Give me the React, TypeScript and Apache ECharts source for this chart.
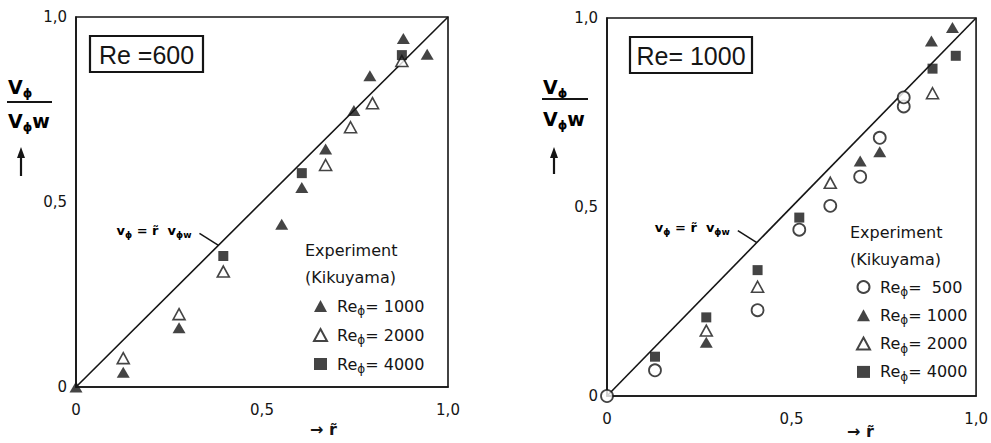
import React, { useEffect, useRef } from "react";
import * as echarts from "echarts";

// Axis ticks and their printed labels (decimal comma)
const axisTicks = [0, 0.5, 1];
const tickLabels = ["0", "0,5", "1,0"];

// Reference line v_phi = r~ v_phi_w
const diagonal = [
  [0, 0],
  [1, 1],
];

// Re = 600, measurements by Kikuyama  [r~, v_phi / v_phi_w]
const re600Rephi1000 = [
  [0, 0],
  [0.127, 0.04],
  [0.277, 0.16],
  [0.553, 0.44],
  [0.607, 0.539],
  [0.671, 0.643],
  [0.747, 0.747],
  [0.79, 0.841],
  [0.88, 0.942],
  [0.944, 0.899],
];
const re600Rephi2000 = [
  [0.127, 0.078],
  [0.277, 0.197],
  [0.396, 0.312],
  [0.671, 0.6],
  [0.738, 0.702],
  [0.797, 0.767],
  [0.876, 0.881],
];
const re600Rephi4000 = [
  [0.396, 0.354],
  [0.607, 0.578],
  [0.876, 0.897],
];

// Re = 1000, measurements by Kikuyama
const re1000Rephi500 = [
  [0, 0],
  [0.13, 0.068],
  [0.408, 0.227],
  [0.521, 0.44],
  [0.605, 0.503],
  [0.686, 0.58],
  [0.739, 0.683],
  [0.804, 0.766],
  [0.804, 0.79],
];
const re1000Rephi1000 = [
  [0.269, 0.142],
  [0.686, 0.622],
  [0.739, 0.646],
  [0.879, 0.939],
  [0.936, 0.975],
];
const re1000Rephi2000 = [
  [0.269, 0.173],
  [0.408, 0.289],
  [0.605, 0.564],
  [0.882, 0.801],
];
const re1000Rephi4000 = [
  [0.13, 0.104],
  [0.269, 0.208],
  [0.408, 0.333],
  [0.521, 0.472],
  [0.882, 0.866],
  [0.945, 0.9],
];

const panelTitles = ["Re =600", "Re= 1000"];
const legendHeading = ["Experiment", "(Kikuyama)"];
const seriesNames = { r500: "Re500", r1000: "Re1000", r2000: "Re2000", r4000: "Re4000" };
const legendValues: Record<string, string> = {
  Re500: "  500",
  Re1000: " 1000",
  Re2000: " 2000",
  Re4000: " 4000",
};

const INK = "#151515";
const FONT = "DejaVu Sans";

const filledTriangle = {
  symbol: "triangle",
  symbolSize: [13, 11],
  itemStyle: { color: INK },
};
const openTriangle = {
  symbol: "triangle",
  symbolSize: [12, 11],
  itemStyle: { color: "#fff", borderColor: INK, borderWidth: 1.6 },
};
const filledSquare = {
  symbol: "rect",
  symbolSize: 10,
  itemStyle: { color: INK },
};
const openCircle = {
  symbol: "circle",
  symbolSize: 12,
  itemStyle: { color: "#fff", borderColor: INK, borderWidth: 1.8 },
};

const legendRich = {
  txt: { fontSize: 16, lineHeight: 22, fontFamily: FONT, color: INK },
  sub: { fontSize: 12, lineHeight: 12, fontFamily: FONT, color: INK, verticalAlign: "bottom" as const },
};

function axisPair(gridIndex: number) {
  const label = {
    fontFamily: FONT,
    fontSize: 15,
    color: INK,
    formatter: (v: number) => {
      const i = axisTicks.findIndex((t) => Math.abs(t - v) < 1e-9);
      return i >= 0 ? tickLabels[i] : "";
    },
  };
  const common = {
    gridIndex,
    type: "value" as const,
    min: axisTicks[0],
    max: axisTicks[axisTicks.length - 1],
    interval: 0.5,
    axisLine: { show: true, lineStyle: { color: INK, width: 1.6 } },
    axisTick: { show: false },
    splitLine: { show: false },
  };
  return {
    x: { ...common, axisLabel: { ...label, margin: 15 } },
    y: { ...common, axisLabel: { ...label, margin: 9 } },
  };
}

function scatter(name: string, data: number[][], gridIndex: number, style: object) {
  return {
    type: "scatter",
    name,
    data,
    xAxisIndex: gridIndex,
    yAxisIndex: gridIndex,
    z: 3,
    ...style,
  };
}

function fraction(left: number, lineRight: number, topY: number, lineY: number, botY: number, arrowX: number, arrowTop: number, arrowBottom: number) {
  const rich = {
    v: { fontSize: 19, fontFamily: FONT, fontWeight: "bold" as const, color: INK, lineHeight: 24 },
    s: { fontSize: 12, fontFamily: FONT, fontWeight: "bold" as const, color: INK, lineHeight: 12, verticalAlign: "bottom" as const },
  };
  return [
    { type: "text", x: left, y: topY, style: { text: "{v|V}{s|ϕ}", rich, align: "left", verticalAlign: "middle" } },
    { type: "line", shape: { x1: left - 1, y1: lineY, x2: lineRight, y2: lineY }, style: { stroke: INK, lineWidth: 2 } },
    { type: "text", x: left, y: botY, style: { text: "{v|V}{s|ϕ}{v|w}", rich, align: "left", verticalAlign: "middle" } },
    { type: "line", shape: { x1: arrowX, y1: arrowBottom, x2: arrowX, y2: arrowTop + 8 }, style: { stroke: INK, lineWidth: 2.2 } },
    {
      type: "polygon",
      shape: { points: [[arrowX, arrowTop], [arrowX - 4, arrowTop + 11], [arrowX + 4, arrowTop + 11]] },
      style: { fill: INK },
    },
  ];
}

export default function App() {
  const ref = useRef<HTMLDivElement>(null);

  useEffect(() => {
    if (!ref.current) return;
    const chart = echarts.init(ref.current, null, { renderer: "svg" });
    const a0 = axisPair(0);
    const a1 = axisPair(1);

    const legendFormatter = (name: string) => `{txt| Re}{sub|ϕ}{txt|=${legendValues[name]}}`;

    chart.setOption({
      animation: false,
      backgroundColor: "#fff",
      grid: [
        { left: 76, top: 17, width: 372, height: 370, show: true, borderColor: INK, borderWidth: 1.6 },
        { left: 607, top: 18, width: 377, height: 378, show: true, borderColor: INK, borderWidth: 1.6 },
      ],
      xAxis: [a0.x, a1.x],
      yAxis: [a0.y, a1.y],
      legend: [
        {
          data: [seriesNames.r1000, seriesNames.r2000, seriesNames.r4000],
          orient: "vertical",
          left: 308,
          top: 293,
          itemWidth: 13,
          itemHeight: 12,
          itemGap: 10,
          selectedMode: false,
          formatter: legendFormatter,
          textStyle: { fontFamily: FONT, fontSize: 16, color: INK, rich: legendRich },
        },
        {
          data: [seriesNames.r500, seriesNames.r1000, seriesNames.r2000, seriesNames.r4000],
          orient: "vertical",
          left: 851,
          top: 274,
          itemWidth: 13,
          itemHeight: 12,
          itemGap: 9.3,
          selectedMode: false,
          formatter: legendFormatter,
          textStyle: { fontFamily: FONT, fontSize: 16, color: INK, rich: legendRich },
        },
      ],
      series: [
        { type: "line", data: diagonal, xAxisIndex: 0, yAxisIndex: 0, symbol: "none", silent: true, z: 1, lineStyle: { color: INK, width: 1.6 } },
        { type: "line", data: diagonal, xAxisIndex: 1, yAxisIndex: 1, symbol: "none", silent: true, z: 1, lineStyle: { color: INK, width: 1.6 } },
        scatter(seriesNames.r1000, re600Rephi1000, 0, filledTriangle),
        scatter(seriesNames.r2000, re600Rephi2000, 0, openTriangle),
        scatter(seriesNames.r4000, re600Rephi4000, 0, filledSquare),
        scatter(seriesNames.r500, re1000Rephi500, 1, openCircle),
        scatter(seriesNames.r1000, re1000Rephi1000, 1, filledTriangle),
        scatter(seriesNames.r2000, re1000Rephi2000, 1, openTriangle),
        scatter(seriesNames.r4000, re1000Rephi4000, 1, filledSquare),
      ],
    });

    // Leader annotation for the line v_phi = r~ v_phi_w, anchored on the diagonal
    const annRich = {
      a: { fontSize: 13, fontFamily: FONT, fontWeight: "bold" as const, color: INK, lineHeight: 18 },
      s: { fontSize: 9, fontFamily: FONT, fontWeight: "bold" as const, color: INK, lineHeight: 9, verticalAlign: "bottom" as const },
    };
    const annotation = (gridIndex: number, r: number, dy: number) => {
      const p = chart.convertToPixel({ gridIndex }, [r, r]) as number[];
      return [
        { type: "line", shape: { x1: p[0] - 19, y1: p[1] - 12, x2: p[0], y2: p[1] }, style: { stroke: INK, lineWidth: 1.5 } },
        {
          type: "text",
          x: p[0] - 27,
          y: p[1] - dy,
          style: { text: "{a|v}{s|ϕ}{a| = r\u0303  v}{s|ϕw}", rich: annRich, align: "right", verticalAlign: "middle" },
        },
      ];
    };

    const titleBox = (x: number, y: number, w: number, h: number, text: string) => [
      { type: "rect", shape: { x, y, width: w, height: h }, style: { fill: "#fff", stroke: INK, lineWidth: 2.2 } },
      {
        type: "text",
        x: x + w / 2,
        y: y + h / 2 + 1,
        style: { text, fill: INK, font: `25px "Liberation Sans"`, align: "center", verticalAlign: "middle" },
      },
    ];

    const heading = (x: number, y: number) =>
      legendHeading.map((t, i) => ({
        type: "text",
        x,
        y: y + i * 27,
        style: { text: t, fill: INK, font: `16px "${FONT}"`, align: "left", verticalAlign: "middle" },
      }));

    const rLabel = (x: number, y: number) => ({
      type: "text",
      x,
      y,
      style: { text: "\u2192 r\u0303", fill: INK, font: `bold 16px "${FONT}"`, align: "left", verticalAlign: "middle" },
    });

    chart.setOption({
      graphic: [
        ...titleBox(90, 36, 113, 36, panelTitles[0]),
        ...titleBox(630, 37, 122, 36, panelTitles[1]),
        ...annotation(0, 0.383, 15),
        ...annotation(1, 0.406, 15),
        ...heading(305, 250),
        ...heading(850, 232),
        ...fraction(8, 52, 87, 102, 121, 21, 147, 176),
        ...fraction(543, 588, 87, 99, 119, 554, 147, 174),
        rLabel(310, 429),
        rLabel(847, 431),
      ],
    });

    return () => chart.dispose();
  }, []);

  return (
    <div
      ref={ref}
      style={{ position: "absolute", left: 0, top: 0, width: 991, height: 443, background: "#fff" }}
    />
  );
}
